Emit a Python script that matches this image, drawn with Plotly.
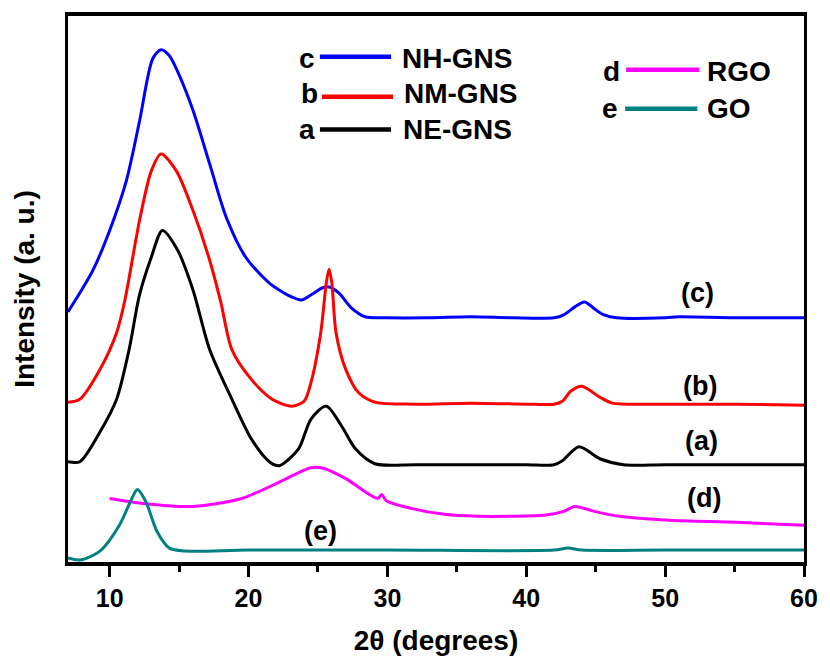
import plotly.graph_objects as go

# ---------------- data ----------------
c_x = [7.0, 7.85, 8.8, 10.0, 11.2, 12.15, 13.1, 13.7, 14.3, 14.8, 15.95, 17.2, 18.4, 19.8, 21.5, 23.1, 23.8,
       24.6, 25.3, 25.8, 26.5, 27.4, 28.4, 30.0, 33.0, 36.0, 39.0, 42.0, 42.7, 43.5, 44.2, 45.0, 45.6,
       46.5, 50.0, 51.0, 55.0, 60.0]
c_y = [252, 271, 294, 334, 384, 444, 507, 516, 510, 497, 457, 401, 347, 307, 281, 267, 264,
       270, 276, 277, 271, 256, 247, 246, 246, 247, 246, 246, 249, 257, 262, 254, 249,
       246, 246, 247, 246, 246]

b_x = [7.0, 7.85, 9.3, 10.5, 11.1, 12.15, 13.0, 13.7, 14.8, 16.0, 17.2, 18.0, 18.8, 20.2, 21.7, 23.1,
       24.0, 24.5, 25.2, 25.6, 25.8, 26.0, 26.3, 27.0, 27.9, 29.1, 32.0, 36.0, 40.0, 42.0, 42.6, 43.2,
       44.0, 45.3, 46.2, 50.0, 55.0, 60.0]
b_y = [161, 164, 194, 231, 264, 344, 394, 411, 394, 354, 304, 262, 214, 184, 164, 157,
       162, 181, 231, 281, 295, 281, 231, 194, 171, 161, 159, 160, 159, 159, 162, 172,
       177, 166, 160, 159, 159, 158]

a_x = [7.0, 7.85, 9.3, 10.5, 11.4, 12.15, 13.0, 13.8, 14.9, 16.0, 17.2, 18.8, 20.2, 21.5, 22.2, 23.6,
       24.5, 25.6, 26.7, 27.7, 29.1, 32.0, 36.0, 40.0, 42.0, 42.6, 43.8, 45.3, 47.0, 50.0, 55.0, 60.0]
a_y = [101, 101, 131, 164, 214, 269, 307, 334, 314, 274, 214, 164, 124, 101, 97, 114,
       144, 157, 137, 114, 99, 98, 98, 98, 98, 102, 116, 104, 98, 98, 98, 98]

d_x = [10.0, 12.4, 16.0, 19.5, 22.0, 24.5, 25.5, 27.0, 29.3, 29.6, 29.9, 31.7, 34.1, 36.5, 38.9, 41.3,
       42.7, 43.5, 44.9, 46.7, 50.3, 55.1, 60.0]
d_y = [64, 59, 56, 64, 79, 95, 94, 84, 64, 68, 62, 54, 48, 46, 46, 47,
       51, 56, 51, 46, 42, 40, 37]

e_x = [7.0, 7.85, 9.3, 10.7, 11.6, 12.0, 12.6, 13.4, 14.3, 15.5, 20.0, 30.0, 42.0, 43.0, 44.0, 50.0, 60.0]
e_y = [4, 2, 11, 37, 64, 73, 61, 31, 14, 11, 12, 12, 12, 14, 12, 12, 12]

series_names = ["NH-GNS", "NM-GNS", "NE-GNS", "RGO", "GO"]
series_letters = ["c", "b", "a", "d", "e"]
colors = ["#0000FF", "#FF0000", "#000000", "#FF00FF", "#008080"]

x_ticks = [10, 20, 30, 40, 50, 60]
x_minor = [15, 25, 35, 45, 55]

# ---------------- figure ----------------
W, H = 830, 664
ML, MR, MT, MB = 68, 17, 14, 102
PW, PH = W - ML - MR, H - MT - MB

def px(xp):
    return (xp - ML) / PW

def py(yp):
    return (H - MB - yp) / PH

fig = go.Figure()
for xs, ys, col, name in zip([c_x, b_x, a_x, d_x, e_x], [c_y, b_y, a_y, d_y, e_y], colors, series_names):
    fig.add_trace(go.Scatter(x=xs, y=ys, mode="lines", name=name,
                             line=dict(color=col, width=3, shape="spline", smoothing=0.8),
                             showlegend=False))

FONT = "Liberation Sans, Arial, sans-serif"

# curve labels
labels = [("(c)", 52.3, 271), ("(b)", 52.5, 177), ("(a)", 52.6, 122), ("(d)", 52.8, 64), ("(e)", 25.2, 31)]
for t, x, y in labels:
    fig.add_annotation(x=x, y=y, text=f"<b>{t}</b>", showarrow=False,
                       font=dict(family=FONT, size=27, color="black"))

# custom legend
leg = [
    (310, 57, 323, 395, 55, 404),
    (312, 92, 325, 397, 95, 406),
    (310, 128, 323, 395, 128, 405),
    (618, 70, 633, 707, 68, 713),
    (617, 107, 632, 705, 107, 713),
]
for (lx, ly, x0, x1, yl, tx), name, letter, col in zip(leg, series_names, series_letters, colors):
    fig.add_shape(type="line", xref="paper", yref="paper", x0=px(x0), x1=px(x1), y0=py(yl), y1=py(yl),
                  line=dict(color=col, width=4.5))
    fig.add_annotation(xref="paper", yref="paper", x=px(lx), y=py(ly), text=f"<b>{letter}</b>",
                       showarrow=False, xanchor="center", yanchor="middle",
                       font=dict(family=FONT, size=28, color="black"))
    fig.add_annotation(xref="paper", yref="paper", x=px(tx), y=py(ly), text=f"<b>{name}</b>",
                       showarrow=False, xanchor="left", yanchor="middle",
                       font=dict(family=FONT, size=28, color="black"))

fig.update_layout(
    width=W, height=H,
    margin=dict(l=ML, r=MR, t=MT, b=MB),
    paper_bgcolor="white", plot_bgcolor="white",
    font=dict(family=FONT, color="black"),
    xaxis=dict(range=[7, 60], tickvals=x_ticks, ticktext=[f"<b>{v}</b>" for v in x_ticks],
               ticks="outside", ticklen=11, tickwidth=3, tickcolor="black",
               minor=dict(tickvals=x_minor, ticks="outside", ticklen=6, tickwidth=3,
                          tickcolor="black", showgrid=False),
               showline=True, linewidth=4, linecolor="black", mirror=True,
               showgrid=False, zeroline=False,
               tickfont=dict(family=FONT, size=25, color="black"),
               title=dict(text="<b>2θ (degrees)</b>", font=dict(family=FONT, size=28, color="black"),
                          standoff=20)),
    yaxis=dict(range=[0, 550], showticklabels=False, ticks="",
               showline=True, linewidth=3, linecolor="black", mirror=True,
               showgrid=False, zeroline=False,
               title=dict(text="<b>Intensity (a. u.)</b>", font=dict(family=FONT, size=28, color="black"),
                          standoff=23)),
)

fig.write_html("out.html")
